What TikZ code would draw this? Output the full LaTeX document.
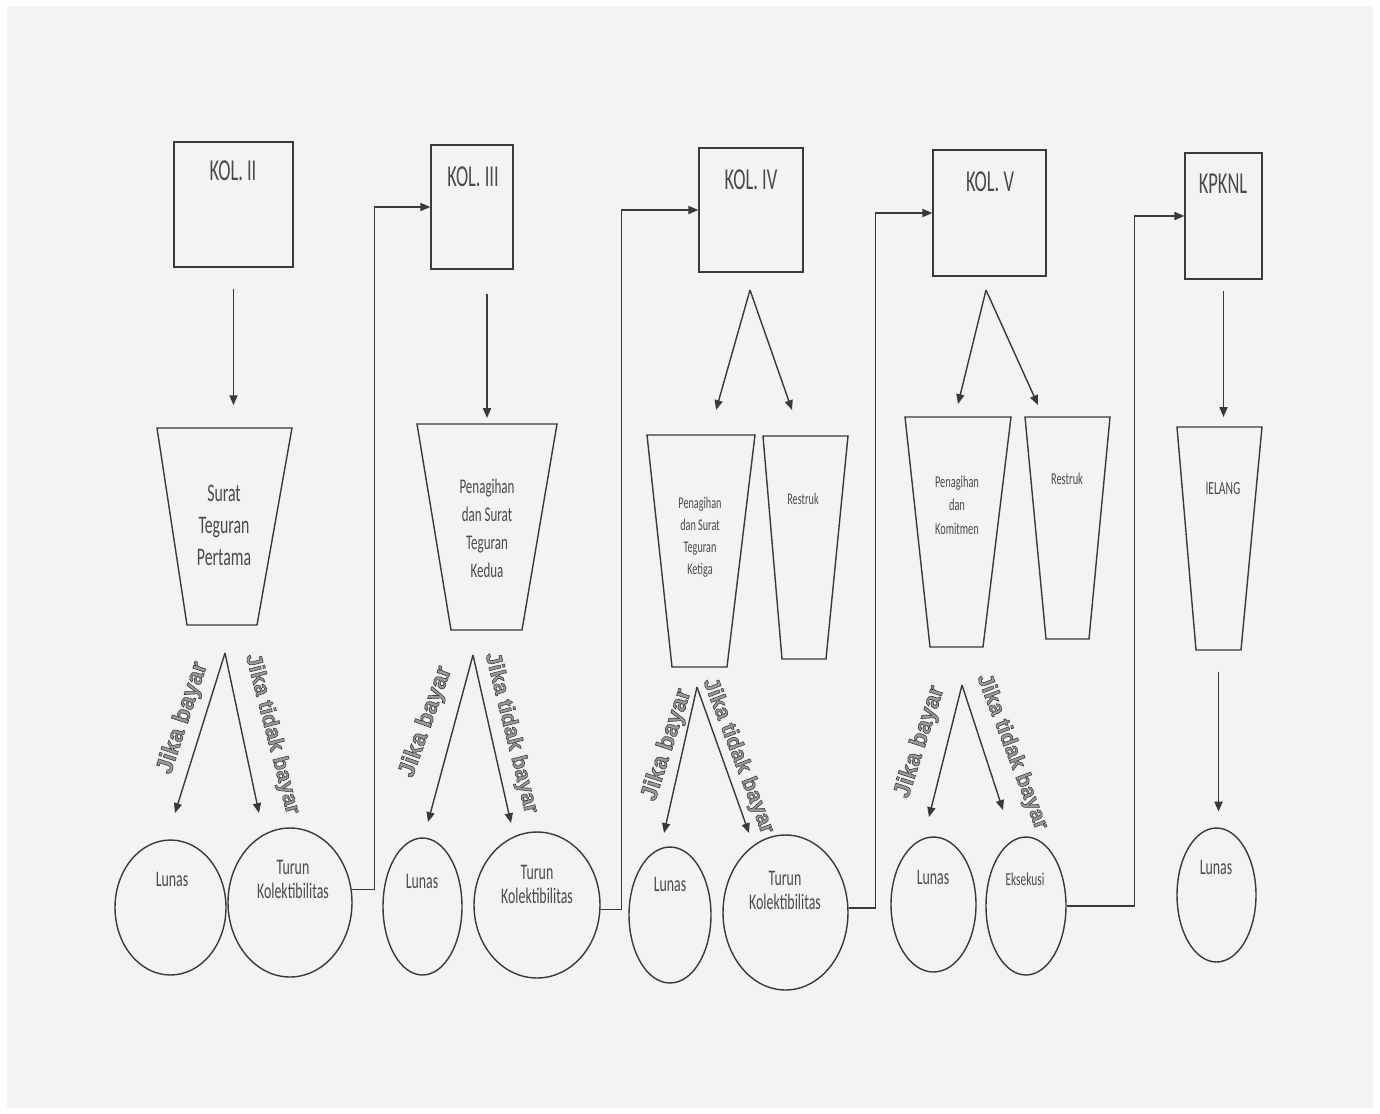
\documentclass[tikz,border=0pt]{standalone}
\usepackage{fontspec}
\setmainfont{Carlito}
\newfontfamily\lblfont{Liberation Sans}[BoldFeatures={FakeBold=2.5}]
\usepackage{graphicx}
\usetikzlibrary{shapes.geometric,arrows.meta,calc}

\definecolor{linec}{HTML}{3A3A3A}
\definecolor{txt}{HTML}{4A4A4A}
\definecolor{sheet}{HTML}{F3F3F3}
\definecolor{olfill}{HTML}{9A9A9A}

% tall (vertically stretched) centred text block
\newcommand\vs[2][1.6]{\scalebox{1}[#1]{\begin{tabular}{@{}c@{}}#2\end{tabular}}}
% grey letters stroked with a dark edge
\newcommand\olt[1]{\special{pdf:literal direct 0.22 0.22 0.22 RG}#1}
% inverted trapezoid: name, top-left x, top-right x, top y, bottom-left x, bottom-right x, bottom y
\newcommand\trapz[7]{%
  \coordinate (#1-nw) at (#2,#4); \coordinate (#1-ne) at (#3,#4);
  \coordinate (#1-sw) at (#5,#7); \coordinate (#1-se) at (#6,#7);
  \coordinate (#1-n) at ($(#1-nw)!.5!(#1-ne)$);
  \coordinate (#1-s) at ($(#1-sw)!.5!(#1-se)$);
  \draw[shp] (#1-nw) -- (#1-ne) -- (#1-se) -- (#1-sw) -- cycle;}

\tikzset{
  shp/.style={draw=linec, line width=0.8pt, line join=miter},
  arr/.style={draw=linec, line width=0.8pt, -{Triangle[length=5.6pt,width=4.6pt]}},
  boxn/.style={shp, rectangle, inner sep=0pt},
  elln/.style={shp, ellipse, inner sep=0pt},
  tx/.style={text=txt, inner sep=0pt},
  boxtx/.style={tx, font=\fontsize{10.5}{12}\selectfont},
  lbl/.style={inner sep=0pt, text=olfill, font=\lblfont\bfseries\fontsize{12.5}{14}\selectfont},
  lblb/.style={lbl, font=\lblfont\bfseries\fontsize{13.5}{15}\selectfont},
}

\begin{document}
\begin{tikzpicture}[x=0.02cm, y=-0.02cm]
\useasboundingbox (0,0) rectangle (1380,1113);
\fill[white] (0,0) rectangle (1380,1113);
\fill[sheet] (7,6) rectangle (1373,1108);

% ---- collectibility boxes
\node[boxn, minimum width=2.38cm, minimum height=2.50cm] (k2) at (233.5,204.5) {};
\node[boxn, minimum width=1.64cm, minimum height=2.48cm] (k3) at (472,207) {};
\node[boxn, minimum width=2.08cm, minimum height=2.48cm] (k4) at (751,210) {};
\node[boxn, minimum width=2.26cm, minimum height=2.52cm] (k5) at (989.5,213) {};
\node[boxn, minimum width=1.54cm, minimum height=2.52cm] (k6) at (1223.5,216) {};
\node[boxtx] (k2t) at (233,174) {\vs[1.65]{KOL. II}};
\node[boxtx] (k3t) at (473,180) {\vs[1.65]{KOL. III}};
\node[boxtx] (k4t) at (751,183) {\vs[1.65]{KOL. IV}};
\node[boxtx] (k5t) at (990,185) {\vs[1.65]{KOL. V}};
\node[boxtx] (k6t) at (1223,187) {\vs[1.65]{KPKNL}};

% ---- actions
\trapz{t1}{157}{292}{428}{187}{257}{625}
\trapz{t2}{417}{557}{424}{451}{522}{630}
\trapz{t3a}{647}{755}{435}{672}{727}{667}
\trapz{t3b}{763}{848}{436}{782}{826}{659}
\trapz{t4a}{905}{1011}{417}{930}{983}{647}
\trapz{t4b}{1025}{1110}{417}{1046}{1089}{639}
\trapz{t5}{1177}{1262}{427}{1196}{1241}{650}

\node[tx, font=\fontsize{9}{11.3}\selectfont] (t1t) at (224,527) {\vs{Surat\\Teguran\\Pertama}};
\node[tx, font=\fontsize{7.4}{9.9}\selectfont] (t2t) at (487,530) {\vs{Penagihan\\dan Surat\\Teguran\\Kedua}};
\node[tx, font=\fontsize{5.8}{7.9}\selectfont] (t3at) at (700,537) {\vs{Penagihan\\dan Surat\\Teguran\\Ketiga}};
\node[tx, font=\fontsize{5.8}{7.9}\selectfont] (t3bt) at (803,500) {\vs{Restruk}};
\node[tx, font=\fontsize{5.9}{8.3}\selectfont] (t4at) at (957,506) {\vs{Penagihan\\dan\\Komitmen}};
\node[tx, font=\fontsize{5.9}{8.3}\selectfont] (t4bt) at (1067,480) {\vs{Restruk}};
\node[tx, font=\fontsize{6.6}{8}\selectfont] (t5t) at (1223,490) {\vs{IELANG}};

% ---- outcomes
\node[elln, minimum width=2.22cm, minimum height=2.70cm] (lun1) at (170.5,907.5) {};
\node[elln, minimum width=2.48cm, minimum height=2.98cm] (tk1) at (290,902.5) {};
\node[elln, minimum width=1.58cm, minimum height=2.74cm] (lun2) at (422.5,906.5) {};
\node[elln, minimum width=2.52cm, minimum height=2.92cm] (tk2) at (537,905) {};
\node[elln, minimum width=1.64cm, minimum height=2.72cm] (lun3) at (670,915) {};
\node[elln, minimum width=2.50cm, minimum height=3.10cm] (tk3) at (785.5,912.5) {};
\node[elln, minimum width=1.70cm, minimum height=2.70cm] (lun4) at (933.5,904.5) {};
\node[elln, minimum width=1.60cm, minimum height=2.76cm] (eks) at (1026,906) {};
\node[elln, minimum width=1.58cm, minimum height=2.68cm] (lun5) at (1216.5,895) {};

\tikzset{ctx/.style={tx, font=\fontsize{7.9}{8.5}\selectfont}}
\node[ctx] (lun1t) at (172,882) {\vs{Lunas}};
\node[ctx] (tk1t) at (293,882) {\vs{Turun\\Kolektibilitas}};
\node[ctx] (lun2t) at (422,884) {\vs{Lunas}};
\node[ctx] (tk2t) at (537,887) {\vs{Turun\\Kolektibilitas}};
\node[ctx] (lun3t) at (670,887) {\vs{Lunas}};
\node[ctx] (tk3t) at (785,893) {\vs{Turun\\Kolektibilitas}};
\node[ctx] (lun4t) at (933,880) {\vs{Lunas}};
\node[tx, font=\fontsize{6.5}{8}\selectfont] (ekst) at (1025,881) {\vs{Eksekusi}};
\node[ctx] (lun5t) at (1216,870) {\vs{Lunas}};

% ---- straight arrows
\draw[arr, shorten <=11.9pt, shorten >=13pt] (k2.south) -- (k2.south |- t1-n);
\draw[arr, shorten <=13.6pt, shorten >=3.4pt] (t2-n |- k3.south) -- (t2-n);
\draw[arr, shorten <=6.2pt, shorten >=5.7pt] (k6.south) -- (k6.south |- t5-n);
\draw[arr, shorten <=12.5pt, shorten >=9pt] (t5-s) -- (t5-s |- lun5.north);

% ---- forks below KOL. IV and KOL. V
\coordinate (f4) at (750,290); \coordinate (f4l) at (716,410); \coordinate (f4r) at (792,410);
\coordinate (f5) at (986,290); \coordinate (f5l) at (958,404); \coordinate (f5r) at (1038,405);
\draw[arr] (f4) -- (f4l); \draw[arr] (f4) -- (f4r);
\draw[arr] (f5) -- (f5l); \draw[arr] (f5) -- (f5r);

% ---- forks below the actions
\coordinate (g1) at (225,653); \coordinate (g1l) at (175,813); \coordinate (g1r) at (259,813);
\coordinate (g2) at (473,655); \coordinate (g2l) at (428,822); \coordinate (g2r) at (511,823);
\coordinate (g3) at (697,687); \coordinate (g3l) at (664,833); \coordinate (g3r) at (749,833);
\coordinate (g4) at (962,685); \coordinate (g4l) at (929,817); \coordinate (g4r) at (1003,810);
\foreach \g in {g1,g2,g3,g4}{
  \draw[arr] (\g) -- (\g l);
  \draw[arr] (\g) -- (\g r);
}

% ---- branch labels
\node[lblb, rotate=71.6] (jb1) at (183,718) {\olt{Jika bayar}};
\node[lbl, rotate=-75.5] (jt1) at (272,734) {\olt{Jika tidak bayar}};
\node[lblb, rotate=70.3] (jb2) at (426,722) {\olt{Jika bayar}};
\node[lbl, rotate=-76] (jt2) at (511,733) {\olt{Jika tidak bayar}};
\node[lblb, rotate=72] (jb3) at (667,745) {\olt{Jika bayar}};
\node[lbl, rotate=-69] (jt3) at (738,756) {\olt{Jika tidak bayar}};
\node[lblb, rotate=72] (jb4) at (920,742) {\olt{Jika bayar}};
\node[lbl, rotate=-69] (jt4) at (1012,752) {\olt{Jika tidak bayar}};

% ---- escalation to the next stage
\draw[arr] (tk1.12) -| ([xshift=-1.12cm]k3.west) -- (k3.west);
\draw[arr] (tk2.356) -| ([xshift=-1.54cm]k4.west) -- (k4.west);
\draw[arr] (tk3.4) -| ([xshift=-1.14cm]k5.west) -- (k5.west);
\draw[arr] (eks.east) -| ([xshift=-1.0cm]k6.west) -- (k6.west);
\end{tikzpicture}
\end{document}
